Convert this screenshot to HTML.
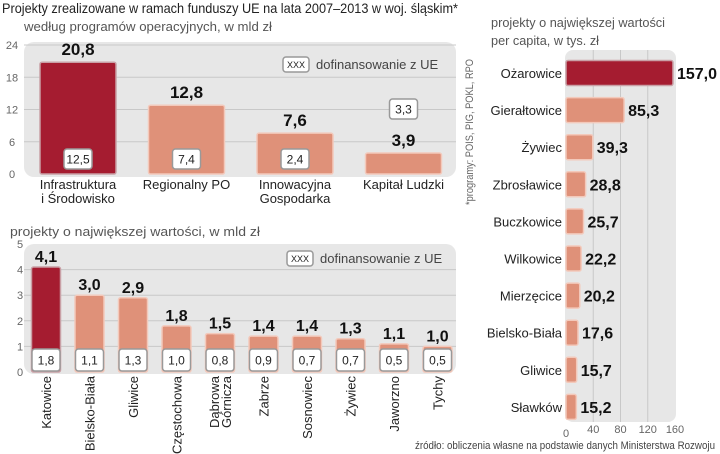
<!DOCTYPE html>
<html><head><meta charset="utf-8"><style>
html,body{margin:0;padding:0;background:#fff;}
svg{display:block;font-family:"Liberation Sans",sans-serif;}
</style></head><body>
<svg id="c" width="720" height="454" viewBox="0 0 720 454" xmlns="http://www.w3.org/2000/svg">
<text x="2" y="13" font-size="14" fill="#222" textLength="456" lengthAdjust="spacingAndGlyphs">Projekty zrealizowane w ramach funduszy UE na lata 2007–2013 w woj. śląskim*</text>
<text x="24" y="31" font-size="13" fill="#555" textLength="248" lengthAdjust="spacingAndGlyphs">według programów operacyjnych, w mld zł</text>
<text x="10" y="236" font-size="13" fill="#555" textLength="250" lengthAdjust="spacingAndGlyphs">projekty o największej wartości, w mld zł</text>
<text x="491" y="27" font-size="13" fill="#555" textLength="174" lengthAdjust="spacingAndGlyphs">projekty o największej wartości</text>
<text x="491" y="45" font-size="13" fill="#555" textLength="108" lengthAdjust="spacingAndGlyphs">per capita, w tys. zł</text>
<text transform="translate(473,205) rotate(-90)" font-size="11" fill="#666" textLength="146" lengthAdjust="spacingAndGlyphs">*programy: POIS, PIG, POKL, RPO</text>
<text x="715" y="449" font-size="11" fill="#444" text-anchor="end" textLength="300" lengthAdjust="spacingAndGlyphs">źródło: obliczenia własne na podstawie danych Ministerstwa Rozwoju</text>
<g id="g1"></g><g id="g2"></g><g id="g3"></g>
</svg>
<script>
const NS="http://www.w3.org/2000/svg";
const c1Cats=[["Infrastruktura","i Środowisko"],["Regionalny PO"],["Innowacyjna","Gospodarka"],["Kapitał Ludzki"]];
const c1Total=[20.8,12.8,7.6,3.9];
const c1EU=[12.5,7.4,2.4,3.3];
const c1Ticks=[0,6,12,18,24];
const c2Cats=[["Katowice"],["Bielsko-Biała"],["Gliwice"],["Częstochowa"],["Dąbrowa","Górnicza"],["Zabrze"],["Sosnowiec"],["Żywiec"],["Jaworzno"],["Tychy"]];
const c2Total=[4.1,3.0,2.9,1.8,1.5,1.4,1.4,1.3,1.1,1.0];
const c2EU=[1.8,1.1,1.3,1.0,0.8,0.9,0.7,0.7,0.5,0.5];
const c2Ticks=[0,1,2,3,4,5];
const c3Cats=["Ożarowice","Gierałtowice","Żywiec","Zbrosławice","Buczkowice","Wilkowice","Mierzęcice","Bielsko-Biała","Gliwice","Sławków"];
const c3Vals=[157.0,85.3,39.3,28.8,25.7,22.2,20.2,17.6,15.7,15.2];
const c3Ticks=[0,40,80,120,160];
const RED="#a51c30",SAL="#df9179",SALB="#f3c9bb",PANEL="#e7e7e7";
const fmt=v=>v.toFixed(1).replace('.',',');
function el(p,t,a,txt){const e=document.createElementNS(NS,t);for(const k in a)e.setAttribute(k,a[k]);if(txt!==undefined)e.textContent=txt;p.appendChild(e);return e;}

// Chart 1
(function(){
const g=document.getElementById('g1');
const y=v=>174-v*(129/24);
const xc=i=>78+i*108.5;
const p=el(g,'rect',{x:24,y:42,width:432,height:135,rx:10,fill:PANEL});

c1Ticks.forEach(t=>{
 if(t>0){const l=el(g,'line',{x1:24,x2:456,y1:y(t),y2:y(t),stroke:'#c8c8c8','stroke-width':1});
 }
 const tx=el(g,'text',{x:12,y:y(t)+4,'font-size':11,fill:'#666','text-anchor':'middle'},String(t));
 
});
c1Total.forEach((v,i)=>{
 const w=76,x=xc(i)-w/2;
 const b=el(g,'rect',{x:x,y:y(v),width:w,height:y(0)-y(v),fill:i==0?RED:SAL,stroke:i==0?'#c9a0a6':SALB,'stroke-width':1.5,rx:2});
 
 const t=el(g,'text',{x:xc(i),y:y(v)-7,'font-size':17,'font-weight':'bold',fill:'#111','text-anchor':'middle'},fmt(v));
 
 const eu=c1EU[i];
 const small=(y(0)-y(v))<30;
 const by=small?y(v)-44:159;
 const bx=el(g,'rect',{x:xc(i)-14,y:by-10,width:28,height:20,rx:3,fill:'#fff',stroke:'#999','stroke-width':1.5});
 
 const et=el(g,'text',{x:xc(i),y:by+4.5,'font-size':12,fill:'#222','text-anchor':'middle'},fmt(eu));
 
 c1Cats[i].forEach((s,j)=>{const ct=el(g,'text',{x:xc(i),y:189+j*14,'font-size':13,fill:'#222','text-anchor':'middle'},s);
 });
});
const lb=el(g,'rect',{x:283,y:57,width:26,height:15,rx:3,fill:'#fff',stroke:'#999','stroke-width':1.5});

const lx=el(g,'text',{x:296,y:68,'font-size':9,fill:'#222','text-anchor':'middle'},'XXX');

const lt=el(g,'text',{x:316,y:69,'font-size':13,fill:'#444'},'dofinansowanie z UE');

})();

// Chart 2
(function(){
const g=document.getElementById('g2');
const y=v=>372-v*25.6;
const xc=i=>46+i*43.5;
const p=el(g,'rect',{x:24,y:244,width:432,height:130,rx:10,fill:PANEL});

c2Ticks.forEach(t=>{
 if(t>0&&t<5){const l=el(g,'line',{x1:24,x2:456,y1:y(t),y2:y(t),stroke:'#c8c8c8','stroke-width':1});
 }
 const tx=el(g,'text',{x:20,y:y(t)+4,'font-size':11,fill:'#666','text-anchor':'middle'},String(t));
 
});
c2Total.forEach((v,i)=>{
 const w=29,x=xc(i)-w/2;
 const b=el(g,'rect',{x:x,y:y(v),width:w,height:y(0)-y(v),fill:i==0?RED:SAL,stroke:i==0?'#c9a0a6':SALB,'stroke-width':1.5,rx:2});
 
 const t=el(g,'text',{x:xc(i),y:y(v)-5,'font-size':16,'font-weight':'bold',fill:'#111','text-anchor':'middle'},fmt(v));
 
 const bx=el(g,'rect',{x:xc(i)-14,y:349,width:28,height:22,rx:3,fill:'#fff',stroke:'#999','stroke-width':1.5});
 
 const et=el(g,'text',{x:xc(i),y:364.5,'font-size':12,fill:'#222','text-anchor':'middle'},fmt(c2EU[i]));
 
 const lines=c2Cats[i];
 lines.forEach((s,j)=>{
  const xo=xc(i)+5-(lines.length-1)*6+j*12;
  const ct=el(g,'text',{transform:`translate(${xo},376) rotate(-90)`,'font-size':13,fill:'#222','text-anchor':'end'},s);
  
 });
});
const lb=el(g,'rect',{x:287,y:251,width:26,height:15,rx:3,fill:'#fff',stroke:'#999','stroke-width':1.5});

const lx=el(g,'text',{x:300,y:262,'font-size':9,fill:'#222','text-anchor':'middle'},'XXX');

const lt=el(g,'text',{x:320,y:263,'font-size':13,fill:'#444'},'dofinansowanie z UE');

})();

// Chart 3
(function(){
const g=document.getElementById('g3');
const x=v=>566+v*(109/160);
const yc=i=>73+i*37.1;
const p=el(g,'rect',{x:565,y:50,width:111,height:372,rx:8,fill:PANEL});

c3Ticks.forEach(t=>{
 if(t>0&&t<160){const l=el(g,'line',{x1:x(t),x2:x(t),y1:50,y2:422,stroke:'#c8c8c8','stroke-width':1});
 }
 const tx=el(g,'text',{x:x(t),y:t==0?437:433,'font-size':11,fill:'#666','text-anchor':'middle'},String(t));
 
});
c3Vals.forEach((v,i)=>{
 const h=25;
 const b=el(g,'rect',{x:x(0),y:yc(i)-h/2,width:x(v)-x(0),height:h,fill:i==0?RED:SAL,stroke:i==0?'#c9a0a6':SALB,'stroke-width':1.5,rx:2});
 
 const t=el(g,'text',{x:x(v)+4,y:yc(i)+6,'font-size':16,'font-weight':'bold',fill:'#111'},fmt(v));
 
 const ct=el(g,'text',{x:562,y:yc(i)+5,'font-size':13,fill:'#222','text-anchor':'end'},c3Cats[i]);
 
});
})();
</script>
</body></html>
